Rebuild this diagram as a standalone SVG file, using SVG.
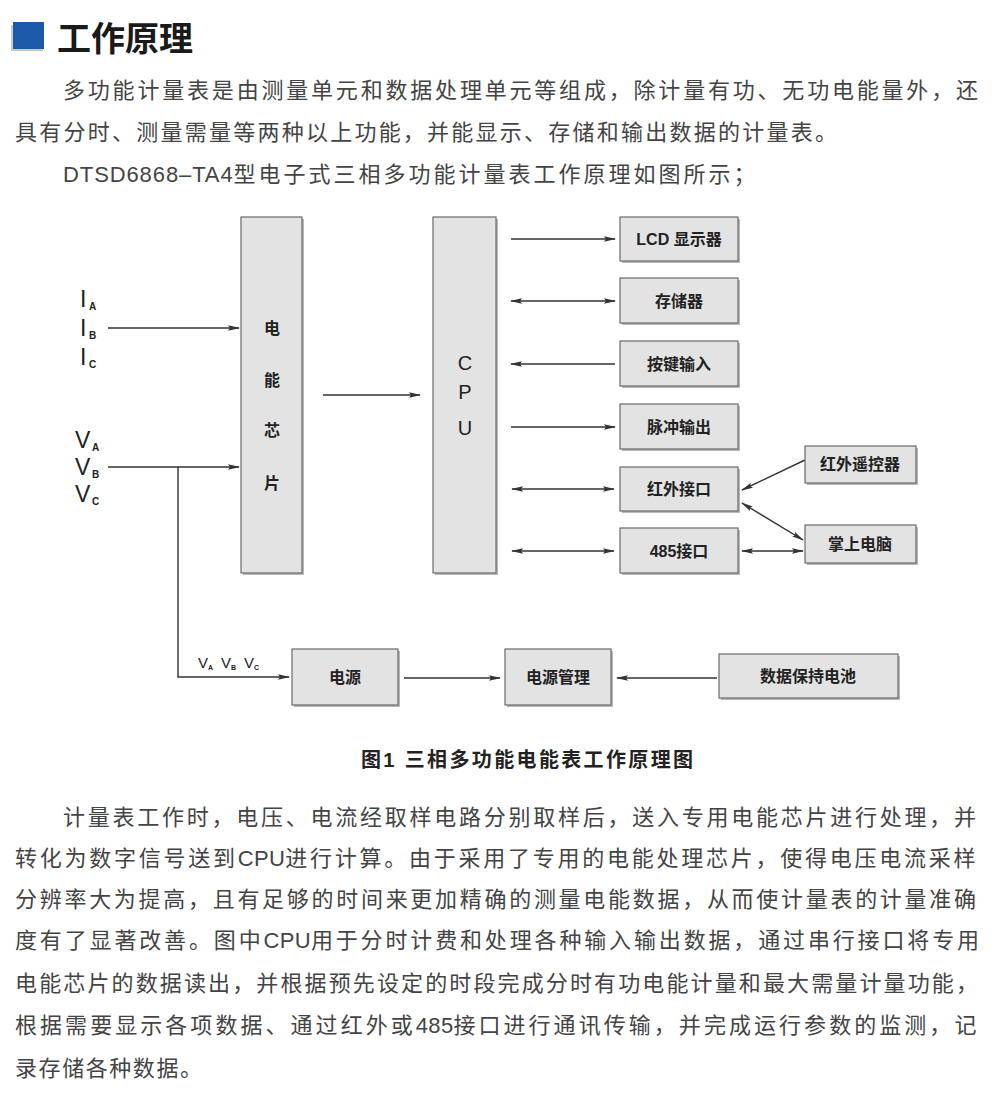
<svg xmlns="http://www.w3.org/2000/svg" width="994" height="1110" viewBox="0 0 994 1110">
<defs>
<marker id="ah" viewBox="0 0 12 6" refX="11" refY="3" markerWidth="12" markerHeight="6" markerUnits="userSpaceOnUse" orient="auto-start-reverse">
<path d="M0,0.3 L12,3 L0,5.7 L2,3 z" fill="#333"/>
</marker>
<style>
.body{font-family:"Liberation Sans","Noto Sans CJK SC",sans-serif;font-size:22px;fill:#444;}
.box{fill:#e3e3e3;stroke:#6a6a6a;stroke-width:1.2;}
.sh{fill:#b8b8b8;}
.lbl{font-family:"Liberation Sans","Noto Sans CJK SC",sans-serif;font-size:16px;font-weight:bold;fill:#222;text-anchor:middle;}
.ln{stroke:#333;stroke-width:1.4;fill:none;}
.sym{font-family:"Liberation Sans","Noto Sans CJK SC",sans-serif;fill:#222;}
</style>
</defs>
<rect width="994" height="1110" fill="#ffffff"/>
<g id="title">
<rect x="11" y="25" width="32" height="26" fill="#c8c8c8"/>
<rect x="13" y="22" width="31" height="27" fill="#1a5aa8"/>
<text x="57" y="51" font-family="'Noto Sans CJK SC',sans-serif" font-size="34" font-weight="bold" fill="#1a1a1a">工作原理</text>
</g>
<g id="para1">
<text class="body" x="63" y="98" textLength="915" lengthAdjust="spacing">多功能计量表是由测量单元和数据处理单元等组成，除计量有功、无功电能量外，还</text>
<text class="body" x="15" y="140" textLength="822" lengthAdjust="spacing">具有分时、测量需量等两种以上功能，并能显示、存储和输出数据的计量表。</text>
<text class="body" x="63" y="182"><tspan letter-spacing="0.9">DTSD6868–TA4</tspan><tspan letter-spacing="3.0">型电子式三相多功能计量表工作原理如图所示；</tspan></text>
</g>
<g id="connectors">
<line class="ln" x1="108" y1="328" x2="239" y2="328" stroke-width="2.2" marker-end="url(#ah)"/>
<line class="ln" x1="108" y1="467" x2="239" y2="467" marker-end="url(#ah)"/>
<polyline class="ln" points="178,467 178,677 289,677" marker-end="url(#ah)"/>
<line class="ln" x1="323" y1="395" x2="420" y2="395" marker-end="url(#ah)"/>
<line class="ln" x1="511" y1="239" x2="615" y2="239" marker-end="url(#ah)"/>
<line class="ln" x1="511" y1="301" x2="615" y2="301" stroke-width="2" marker-start="url(#ah)" marker-end="url(#ah)"/>
<line class="ln" x1="615" y1="364" x2="511" y2="364" marker-end="url(#ah)"/>
<line class="ln" x1="511" y1="427" x2="615" y2="427" marker-end="url(#ah)"/>
<line class="ln" x1="512" y1="489" x2="614" y2="489" marker-start="url(#ah)" marker-end="url(#ah)"/>
<line class="ln" x1="512" y1="551" x2="614" y2="551" marker-start="url(#ah)" marker-end="url(#ah)"/>
<line class="ln" x1="805" y1="460" x2="742" y2="490" marker-end="url(#ah)"/>
<line class="ln" x1="742" y1="503" x2="803" y2="540" marker-start="url(#ah)" marker-end="url(#ah)"/>
<line class="ln" x1="742" y1="551" x2="803" y2="551" marker-start="url(#ah)" marker-end="url(#ah)"/>
<line class="ln" x1="404" y1="678" x2="500" y2="678" marker-end="url(#ah)"/>
<line class="ln" x1="717" y1="678" x2="617" y2="678" marker-end="url(#ah)"/>
</g>
<g id="inputs-I">
<text class="sym" x="80" y="307" font-size="23">I</text><text class="sym" x="89" y="310" font-size="10" font-weight="bold">A</text>
<text class="sym" x="80" y="336" font-size="23">I</text><text class="sym" x="89" y="339" font-size="10" font-weight="bold">B</text>
<text class="sym" x="80" y="365" font-size="23">I</text><text class="sym" x="89" y="368" font-size="10" font-weight="bold">C</text>
</g>
<g id="inputs-V">
<text class="sym" x="75" y="448" font-size="23">V</text><text class="sym" x="92" y="451" font-size="10" font-weight="bold">A</text>
<text class="sym" x="75" y="475" font-size="23">V</text><text class="sym" x="92" y="478" font-size="10" font-weight="bold">B</text>
<text class="sym" x="75" y="502" font-size="23">V</text><text class="sym" x="92" y="505" font-size="10" font-weight="bold">C</text>
</g>
<g id="v-label">
<text class="sym" x="198" y="668" font-size="15">V</text><text class="sym" x="208" y="670" font-size="7" font-weight="bold">A</text>
<text class="sym" x="221" y="668" font-size="15">V</text><text class="sym" x="231" y="670" font-size="7" font-weight="bold">B</text>
<text class="sym" x="244" y="668" font-size="15">V</text><text class="sym" x="254" y="670" font-size="7" font-weight="bold">C</text>
</g>
<g id="chip">
<rect class="sh" x="243" y="219" width="61" height="356"/>
<rect class="box" x="241" y="217" width="61" height="356"/>
<text class="lbl" x="272" y="334" font-size="18">电</text>
<text class="lbl" x="272" y="386" font-size="18">能</text>
<text class="lbl" x="272" y="436" font-size="18">芯</text>
<text class="lbl" x="272" y="489" font-size="18">片</text>
</g>
<g id="cpu">
<rect class="sh" x="435" y="219" width="63" height="356"/>
<rect class="box" x="433" y="217" width="63" height="356"/>
<text class="sym" x="465" y="370" font-size="20" text-anchor="middle">C</text>
<text class="sym" x="465" y="399" font-size="20" text-anchor="middle">P</text>
<text class="sym" x="465" y="435" font-size="20" text-anchor="middle">U</text>
</g>
<g id="lcd">
<rect class="sh" x="622" y="219" width="118" height="44"/>
<rect class="box" x="620" y="217" width="118" height="44"/>
<text class="lbl" x="679" y="245">LCD 显示器</text>
</g>
<g id="storage">
<rect class="sh" x="622" y="280" width="118" height="45"/>
<rect class="box" x="620" y="278" width="118" height="45"/>
<text class="lbl" x="679" y="307">存储器</text>
</g>
<g id="keys">
<rect class="sh" x="622" y="343" width="118" height="45"/>
<rect class="box" x="620" y="341" width="118" height="45"/>
<text class="lbl" x="679" y="370">按键输入</text>
</g>
<g id="pulse">
<rect class="sh" x="622" y="406" width="118" height="45"/>
<rect class="box" x="620" y="404" width="118" height="45"/>
<text class="lbl" x="679" y="433">脉冲输出</text>
</g>
<g id="ir">
<rect class="sh" x="622" y="469" width="118" height="44"/>
<rect class="box" x="620" y="467" width="118" height="44"/>
<text class="lbl" x="679" y="495">红外接口</text>
</g>
<g id="rs485">
<rect class="sh" x="622" y="530" width="118" height="45"/>
<rect class="box" x="620" y="528" width="118" height="45"/>
<text class="lbl" x="679" y="557">485接口</text>
</g>
<g id="remote">
<rect class="sh" x="807" y="448" width="111" height="37"/>
<rect class="box" x="805" y="446" width="111" height="37"/>
<text class="lbl" x="860" y="470">红外遥控器</text>
</g>
<g id="pda">
<rect class="sh" x="807" y="527" width="111" height="38"/>
<rect class="box" x="805" y="525" width="111" height="38"/>
<text class="lbl" x="860" y="550">掌上电脑</text>
</g>
<g id="power">
<rect class="sh" x="294" y="651" width="106" height="56"/>
<rect class="box" x="292" y="649" width="106" height="56"/>
<text class="lbl" x="345" y="683">电源</text>
</g>
<g id="power-mgmt">
<rect class="sh" x="507" y="651" width="106" height="56"/>
<rect class="box" x="505" y="649" width="106" height="56"/>
<text class="lbl" x="558" y="683">电源管理</text>
</g>
<g id="battery">
<rect class="sh" x="721" y="656" width="179" height="44"/>
<rect class="box" x="719" y="654" width="179" height="44"/>
<text class="lbl" x="808" y="682">数据保持电池</text>
</g>
<g id="caption">
<text x="361" y="767" font-family="'Liberation Sans','Noto Sans CJK SC',sans-serif" font-size="20" font-weight="bold" fill="#222" textLength="332" lengthAdjust="spacing">图1  三相多功能电能表工作原理图</text>
</g>
<g id="para2">
<text class="body" x="63" y="825" textLength="913" lengthAdjust="spacing">计量表工作时，电压、电流经取样电路分别取样后，送入专用电能芯片进行处理，并</text>
<text class="body" x="15" y="866"><tspan letter-spacing="2.75">转化为数字信号送到</tspan><tspan letter-spacing="0.3">CPU</tspan><tspan letter-spacing="2.75">进行计算。由于采用了专用的电能处理芯片，使得电压电流采样</tspan></text>
<text class="body" x="15" y="907" textLength="961" lengthAdjust="spacing">分辨率大为提高，且有足够的时间来更加精确的测量电能数据，从而使计量表的计量准确</text>
<text class="body" x="15" y="948"><tspan letter-spacing="2.85">度有了显著改善。图中</tspan><tspan letter-spacing="0.3">CPU</tspan><tspan letter-spacing="2.85">用于分时计费和处理各种输入输出数据，通过串行接口将专用</tspan></text>
<text class="body" x="15" y="991" textLength="963" lengthAdjust="spacing">电能芯片的数据读出，并根据预先设定的时段完成分时有功电能计量和最大需量计量功能，</text>
<text class="body" x="15" y="1033"><tspan letter-spacing="3.05">根据需要显示各项数据、通过红外或</tspan><tspan letter-spacing="0.3">485</tspan><tspan letter-spacing="3.05">接口进行通讯传输，并完成运行参数的监测，记</tspan></text>
<text class="body" x="15" y="1076" textLength="187" lengthAdjust="spacing">录存储各种数据。</text>
</g>
</svg>
